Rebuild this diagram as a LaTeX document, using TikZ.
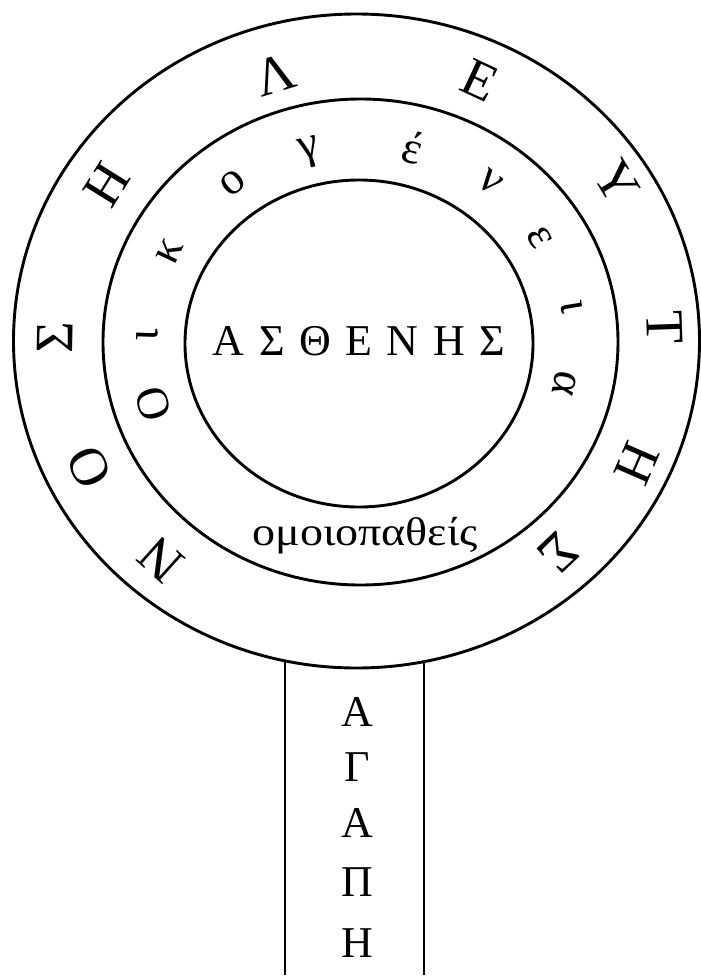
\documentclass[tikz,border=0pt]{standalone}
\usepackage{fontspec}
\setmainfont{Liberation Serif}
\begin{document}
\begin{tikzpicture}[x=1pt,y=-1pt,
  ring/.style={line width=2.9pt},
  outl/.style={font=\fontsize{54}{54}\selectfont, inner sep=0pt},
  midl/.style={font=\fontsize{46}{46}\selectfont, inner sep=0pt},
  capt/.style={font=\fontsize{44}{44}\selectfont, inner sep=0pt}]
\useasboundingbox (0,0) rectangle (701,977);
% rings
\draw[ring] (356.5,341) ellipse [x radius=343pt, y radius=327pt];
\draw[ring] (360.5,342) ellipse [x radius=257.5pt, y radius=243pt];
\draw[ring] (359,343.5) ellipse [x radius=174pt, y radius=163.5pt];
% stem
\coordinate (stl) at (285,661.5);
\coordinate (str) at (424,661.5);
\coordinate (sbl) at (285,975);
\coordinate (sbr) at (424,975);
\draw[ring] (stl) -- (sbl);
\draw[ring] (str) -- (sbr);
% outer ring: ΝΟΣΗΛΕΥΤΗΣ
\node[outl, rotate=138]    (o1)  at (161,560) {Ν};
\node[outl, rotate=115]    (o2)  at (89,467)  {Ο};
\node[outl, rotate=89]     (o3)  at (55,337)  {Σ};
\node[outl, rotate=58]     (o4)  at (107,185) {Η};
\node[outl, rotate=17]     (o5)  at (275,75)  {Λ};
\node[outl, rotate=-25]    (o6)  at (480,80)  {Ε};
\node[outl, rotate=-58.6]  (o7)  at (617,182) {Υ};
\node[outl, rotate=-88]    (o8)  at (665,327) {Τ};
\node[outl, rotate=-113.5] (o9)  at (637,463) {Η};
\node[outl, rotate=-136.5] (o10) at (558,553) {Σ};
% middle ring: Οικογένεια
\node[midl, rotate=106.7] (m1)  at (153,404) {Ο};
\node[midl, rotate=88]    (m2)  at (147,335) {ι};
\node[midl, rotate=64.7]  (m3)  at (170,252) {κ};
\node[midl, rotate=38.6]  (m4)  at (233,183) {ο};
\node[midl, rotate=14.6]  (m5)  at (310,152) {γ};
\node[midl, rotate=-14.6] (m6)  at (413,147) {έ};
\node[midl, rotate=-39]   (m7)  at (490,182) {ν};
\node[midl, rotate=-60]   (m8)  at (540,238) {ε};
\node[midl, rotate=-80.6] (m9)  at (572,307) {ι};
\node[midl, rotate=-101.3](m10) at (565,383) {α};
% centre
\node[capt] (pat) at (359,341) {Α\kern14.5ptΣ\kern14.5ptΘ\kern14.5ptΕ\kern14.5ptΝ\kern14.5ptΗ\kern14.5ptΣ};
\node[font=\fontsize{40}{40}\selectfont, inner sep=0pt, anchor=base, xscale=1.15] (omo) at (365,545) {ομοιοπαθείς};
% stem text
\node[capt, align=center, anchor=north, font=\fontsize{44}{55}\selectfont] (aga) at (357,697)
  {Α\\Γ\\[1pt]Α\\[4pt]Π\\[6pt]Η};
\end{tikzpicture}
\end{document}
